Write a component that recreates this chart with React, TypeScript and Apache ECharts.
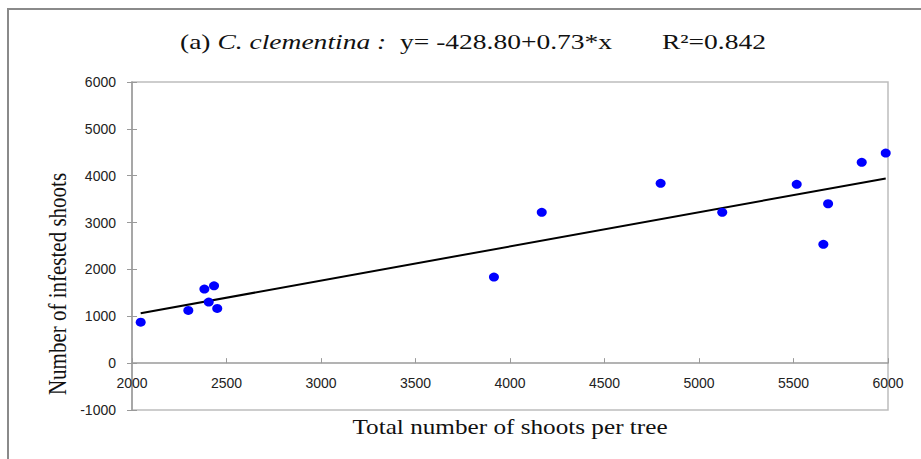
import React, { useEffect, useRef } from "react";
import * as echarts from "echarts";

const shootsTotal = [2046, 2298, 2383, 2434, 2406, 2451, 3915, 4168, 4797, 5123, 5517, 5683, 5658, 5861, 5988];
const shootsInfested = [875, 1125, 1580, 1651, 1303, 1168, 1836, 3218, 3837, 3218, 3816, 3402, 2535, 4286, 4484];
const intercept = -428.8;
const slope = 0.73;
const xTicks = { min: 2000, max: 6000, interval: 500 };
const yTicks = { min: -1000, max: 6000, interval: 1000 };
const titleParts = ["(a) ", "C. clementina :", "  y= -428.80+0.73*x", "R²=0.842"];
const xName = "Total number of shoots per tree";
const yName = "Number of infested shoots";

export default function App() {
  const ref = useRef<HTMLDivElement>(null);
  useEffect(() => {
    document.body.style.margin = "0";
    const chart = echarts.init(ref.current!, null, { renderer: "svg" });
    const points = shootsTotal.map((x, i) => [x, shootsInfested[i]]);
    const xMin = Math.min(...shootsTotal);
    const xMax = Math.max(...shootsTotal);
    const trend = [
      [xMin, intercept + slope * xMin],
      [xMax, intercept + slope * xMax],
    ];
    const serif = "'Liberation Serif', 'Times New Roman', serif";
    const sans = "'Liberation Sans', Arial, sans-serif";
    const stretch = 1.2;
    const titleStretch = 1.31;
    chart.setOption({
      animation: false,
      backgroundColor: "#ffffff",
      grid: {
        left: 132,
        right: 33,
        top: 82,
        bottom: 49,
        show: true,
        borderColor: "#bdbdbd",
        borderWidth: 1.5,
        containLabel: false,
        outerBoundsMode: "none",
      },
      xAxis: {
        type: "value",
        min: xTicks.min,
        max: xTicks.max,
        interval: xTicks.interval,
        axisLine: { onZero: true, lineStyle: { color: "#9a9a9a", width: 1.5 } },
        axisTick: { show: true, inside: true, length: 5, lineStyle: { color: "#9a9a9a" } },
        axisLabel: { margin: -34, fontFamily: sans, fontSize: 14, color: "#222", formatter: (v: number) => String(v) },
        splitLine: { show: false },
      },
      yAxis: [
        {
          type: "value",
          min: yTicks.min,
          max: yTicks.max,
          interval: yTicks.interval,
          axisLine: { show: true, lineStyle: { color: "#9a9a9a", width: 1.5 } },
          axisTick: { show: true, length: 5, lineStyle: { color: "#9a9a9a" } },
          axisLabel: { margin: 16, fontFamily: sans, fontSize: 14, color: "#222", formatter: (v: number) => String(v) },
          splitLine: { show: false },
        },
        {
          type: "value",
          position: "left",
          min: yTicks.min,
          max: yTicks.max,
          interval: yTicks.interval,
          axisLine: { show: false },
          axisTick: { show: true, inside: true, length: 5, lineStyle: { color: "#9a9a9a" } },
          axisLabel: { show: false },
          splitLine: { show: false },
        },
      ],
      graphic: [
        {
          type: "polyline",
          shape: { points: [[8, 459], [8, 9], [921, 9]] },
          style: { stroke: "#8a8a8a", lineWidth: 2, fill: null },
          silent: true,
        },
        {
          type: "text",
          x: 180,
          y: 42,
          scaleX: titleStretch,
          silent: true,
          style: {
            x: 0,
            y: 0,
            verticalAlign: "middle",
            text: `{n|${titleParts[0]}}{i|${titleParts[1]}}{n|${titleParts[2]}}{g|}{n|${titleParts[3]}}`,
            rich: {
              n: { fontFamily: serif, fontSize: 21, fill: "#111" },
              i: { fontFamily: serif, fontSize: 21, fontStyle: "italic", fill: "#111" },
              g: { width: 38 },
            },
          },
        },
        {
          type: "text",
          x: 510,
          y: 427,
          scaleX: stretch,
          silent: true,
          style: {
            x: 0,
            y: 0,
            align: "center",
            verticalAlign: "middle",
            text: xName,
            fontFamily: serif,
            fontSize: 21,
            fill: "#111",
          },
        },
        {
          type: "text",
          x: 57,
          y: 284,
          rotation: Math.PI / 2,
          scaleY: stretch,
          silent: true,
          style: {
            x: 0,
            y: 0,
            align: "center",
            verticalAlign: "middle",
            text: yName,
            fontFamily: serif,
            fontSize: 21,
            fill: "#111",
          },
        },
      ],
      series: [
        {
          type: "line",
          data: trend,
          symbol: "none",
          lineStyle: { color: "#000", width: 2 },
          z: 2,
        },
        {
          type: "scatter",
          data: points,
          symbol: "circle",
          symbolSize: [10, 9],
          itemStyle: { color: "#0000ff", opacity: 1 },
          z: 3,
        },
      ],
    });
    return () => chart.dispose();
  }, []);
  return <div ref={ref} style={{ width: 921, height: 459 }} />;
}
